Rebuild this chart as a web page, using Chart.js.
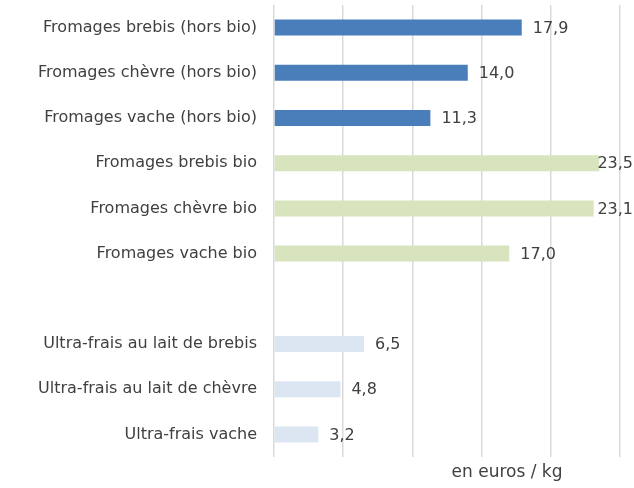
<!DOCTYPE html>
<html>
<head>
<meta charset="utf-8">
<script src="https://cdn.jsdelivr.net/npm/chart.js@4"></script>
<style>
    html, body { margin: 0; padding: 0; background: #fff; }
    #wrap { width: 634px; height: 488px; }
</style>
</head>
<body>
<div id="wrap"><canvas id="prixChart"></canvas></div>
<script>
// Données
const categories = [
    "Fromages brebis (hors bio)",
    "Fromages chèvre (hors bio)",
    "Fromages vache (hors bio)",
    "Fromages brebis bio",
    "Fromages chèvre bio",
    "Fromages vache bio",
    "",
    "Ultra-frais au lait de brebis",
    "Ultra-frais au lait de chèvre",
    "Ultra-frais vache"
];
const valeurs = [17.9, 14.0, 11.3, 23.5, 23.1, 17.0, null, 6.5, 4.8, 3.2];
const groupes = ["conv", "conv", "conv", "bio", "bio", "bio", "", "frais", "frais", "frais"];
const couleurs = { conv: "#4a7ebb", bio: "#d7e4bd", frais: "#dce6f2", "": "#ffffff" };
const xMin = 0;
const xMax = 25;
const xPas = 5;
const titreAxe = "en euros / kg";

const police = "'DejaVu Sans', sans-serif";
const texteCouleur = "#404040";

// -------------------------------
// Étiquettes de valeur au bout des barres + titre de l'axe
// -------------------------------
const etiquettes = {
    id: "etiquettes",
    afterDatasetsDraw(chart) {
        const ctx = chart.ctx;
        const meta = chart.getDatasetMeta(0);
        ctx.save();
        ctx.font = "16px " + police;
        ctx.fillStyle = texteCouleur;
        ctx.textBaseline = "middle";
        meta.data.forEach((bar, i) => {
            const v = valeurs[i];
            if (v === null) return;
            const txt = v.toFixed(1).replace(".", ",");
            const w = ctx.measureText(txt).width;
            const x = Math.min(bar.x + 11, chart.width - w - 1);
            ctx.fillText(txt, x, bar.y + 1);
        });
        ctx.restore();
    },
    afterDraw(chart) {
        const ctx = chart.ctx;
        ctx.save();
        ctx.font = "17px " + police;
        ctx.fillStyle = texteCouleur;
        ctx.textAlign = "center";
        ctx.textBaseline = "middle";
        ctx.fillText(titreAxe, 507, 473);
        ctx.restore();
    }
};

new Chart(document.getElementById("prixChart"), {
    type: "bar",
    data: {
        labels: categories,
        datasets: [{
            data: valeurs,
            backgroundColor: groupes.map(g => couleurs[g]),
            barPercentage: 0.71,
            categoryPercentage: 0.5
        }]
    },
    options: {
        indexAxis: "y",
        responsive: true,
        maintainAspectRatio: false,
        animation: false,
        layout: { padding: { top: 5, right: 14, left: 0, bottom: 0 } },
        plugins: {
            legend: { display: false },
            tooltip: { enabled: false }
        },
        scales: {
            x: {
                min: xMin,
                max: xMax,
                ticks: { display: false, stepSize: xPas },
                grid: { color: "#d9d9d9", lineWidth: 1.5, drawTicks: false },
                border: { display: false },
                afterFit(scale) {
                    scale.height = 31;
                    scale.paddingTop = 0;
                    scale.paddingBottom = 0;
                }
            },
            y: {
                grid: { display: false, drawTicks: false },
                border: { display: false },
                ticks: {
                    color: texteCouleur,
                    font: { family: police, size: 16 },
                    padding: 17
                },
                afterFit(scale) {
                    scale.width = 274;
                    scale.paddingTop = 0;
                    scale.paddingBottom = 0;
                }
            }
        }
    },
    plugins: [etiquettes]
});
</script>
</body>
</html>
